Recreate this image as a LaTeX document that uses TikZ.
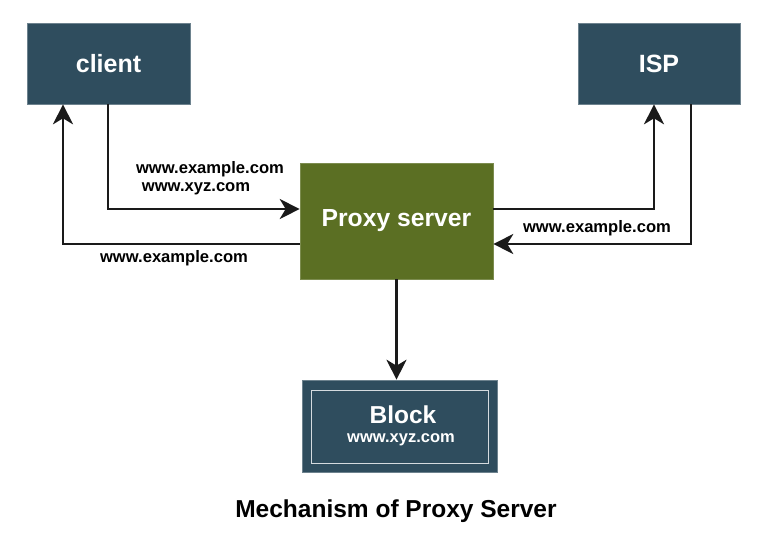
\documentclass[tikz,border=0pt]{standalone}
\usepackage{fontspec}
\setmainfont{Liberation Sans}
\usetikzlibrary{arrows.meta}
\definecolor{boxblue}{HTML}{2F4D5E}
\definecolor{boxgreen}{HTML}{5B6F23}
\definecolor{linecol}{HTML}{1A1A1A}
\tikzset{
  bluebox/.style={draw=boxblue!70!white, line width=0.6pt, fill=boxblue, text=white, font=\bfseries\fontsize{25}{29}\selectfont, inner sep=0pt},
  greenbox/.style={draw=boxgreen!80!white, line width=0.6pt, fill=boxgreen, text=white, font=\bfseries\fontsize{24.7}{28}\selectfont, inner sep=0pt},
  conn/.style={draw=linecol, line width=2.2pt, -{Stealth[length=20pt,width=20pt,inset=6pt]}},
  lbl/.style={font=\bfseries\fontsize{16.6}{19}\selectfont, text=black, inner sep=0pt},
}
\begin{document}
\begin{tikzpicture}[x=1pt,y=-1pt]
\useasboundingbox (0,0) rectangle (774,547);
\node[bluebox, minimum width=163pt, minimum height=81pt] (client) at (108.5,63.5) {client};
\node[bluebox, minimum width=162pt, minimum height=81pt] (isp) at (659,63.5) {ISP};
\node[greenbox, minimum width=193pt, minimum height=116pt] (proxy) at (396.5,221) {Proxy server};
\node[bluebox, minimum width=195pt, minimum height=92pt] (block) at (399.5,426) {};
\draw[white!80!boxblue, line width=1pt] (311,390) rectangle (488,463);
\node[text=white, font=\bfseries\fontsize{24.5}{28}\selectfont, inner sep=0pt] (blocktitle) at (403,415) {Block};
\node[text=white, font=\bfseries\fontsize{16.5}{19}\selectfont, inner sep=0pt] (blockurl) at (401,440) {www.xyz.com};

\coordinate (c1) at (108,209);
\coordinate (c2) at (63,244);
\coordinate (i1) at (654,209);
\coordinate (i2) at (691,244);

\draw[conn] (client.south -| c1) -- (c1) -- (c1 -| proxy.west);
\draw[conn] (c2 -| proxy.west) -- (c2) -- (c2 |- client.south);
\draw[conn] (i1 -| proxy.east) -- (i1) -- (i1 |- isp.south);
\draw[conn] (i2 |- isp.south) -- (i2) -- (i2 -| proxy.east);
\draw[conn] (proxy.south) -- (block.north -| proxy.south);

\node[lbl] (l1) at (210,169) {www.example.com};
\node[lbl] (l2) at (196,189) {www.xyz.com};
\node[lbl] (l3) at (174,258) {www.example.com};
\node[lbl] (l4) at (597,228) {www.example.com};
\node[font=\bfseries\fontsize{24.5}{28}\selectfont, inner sep=0pt] (title) at (396,511) {Mechanism of Proxy Server};
\end{tikzpicture}
\end{document}
